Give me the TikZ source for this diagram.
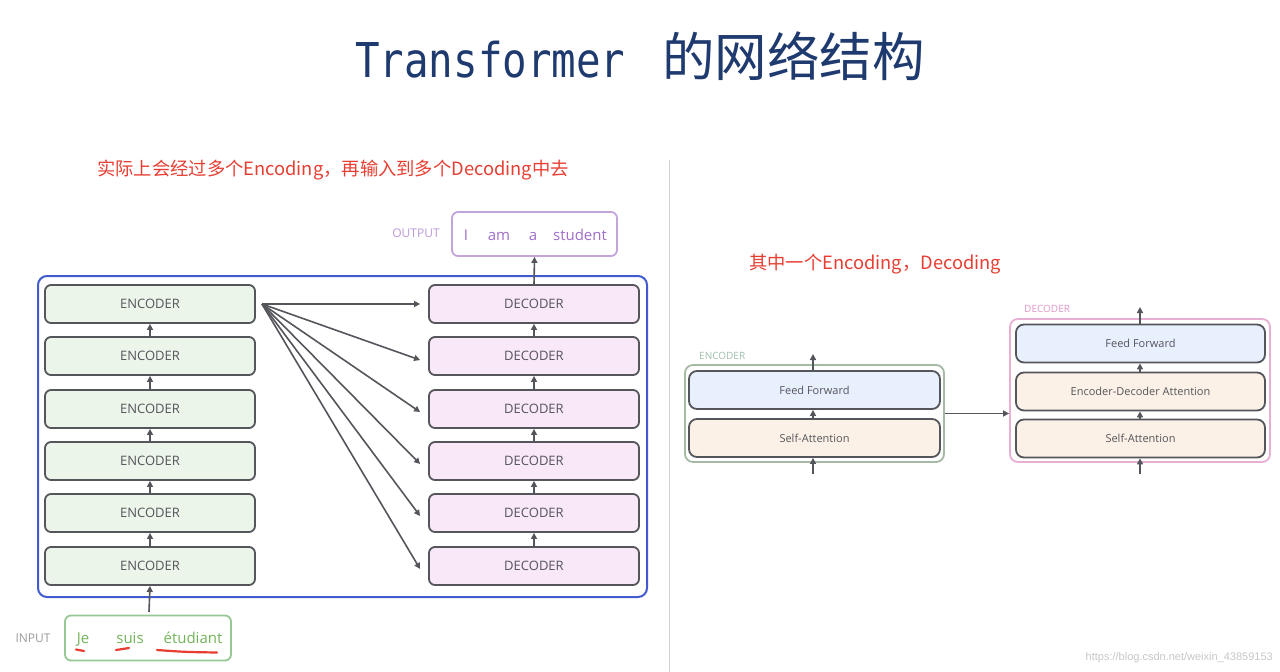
\documentclass[tikz,border=0pt]{standalone}
\usepackage{fontspec}
\setmainfont{Open Sans}
\newfontfamily\cjk{Noto Sans CJK SC}
\newfontfamily\titlemono[FakeStretch=0.85]{DejaVu Sans Mono}
\newfontfamily\wmfont{Liberation Sans}
\usetikzlibrary{arrows.meta}
\definecolor{titleblue}{RGB}{30,58,110}
\definecolor{notered}{RGB}{232,62,50}
\definecolor{boxdraw}{RGB}{85,85,92}
\definecolor{encfill}{RGB}{236,245,234}
\definecolor{decfill}{RGB}{249,232,248}
\definecolor{blueframe}{RGB}{65,90,205}
\definecolor{outborder}{RGB}{195,165,220}
\definecolor{outtext}{RGB}{160,110,200}
\definecolor{inborder}{RGB}{150,200,150}
\definecolor{intext}{RGB}{115,180,90}
\definecolor{ffblue}{RGB}{232,239,253}
\definecolor{peach}{RGB}{252,241,230}
\definecolor{encframe}{RGB}{165,185,165}
\definecolor{decframe}{RGB}{232,175,212}
\definecolor{enclabel}{RGB}{160,192,172}
\definecolor{declabel}{RGB}{222,150,200}
\definecolor{graylabel}{RGB}{130,130,135}
\tikzset{
  stackbox/.style={draw=boxdraw, line width=1.8pt, rounded corners=6pt,
    minimum width=210pt, minimum height=38pt, inner sep=0pt,
    text=boxdraw, font=\fontsize{13}{15}\selectfont},
  encbox/.style={stackbox, fill=encfill},
  decbox/.style={stackbox, fill=decfill},
  layerbox/.style={draw=boxdraw, line width=1.8pt, rounded corners=8pt,
    minimum height=38pt, inner sep=0pt, text=boxdraw,
    font=\fontsize{11}{13}\selectfont},
  arr/.style={draw=boxdraw, line width=1.6pt, -{Triangle[length=6pt,width=6pt]}},
  redline/.style={draw=notered, line width=2.2pt, line cap=round},
  note/.style={text=notered, font=\cjk\fontsize{18.3}{20}\selectfont, inner sep=0pt},
}
\begin{document}
\begin{tikzpicture}[x=1pt,y=-1pt]
\useasboundingbox[fill=white] (0,0) rectangle (1280,672);

% title
\node[anchor=base west, inner sep=0pt, text=titleblue] (t1) at (355,77)
  {\fontsize{48}{50}\selectfont\titlemono Transformer};
\node[anchor=base west, inner sep=0pt, text=titleblue] (t2) at (662,76)
  {\fontsize{52.5}{55}\selectfont\cjk 的网络结构};

% notes
\node[note, anchor=west] (n1) at (97,170) {实际上会经过多个Encoding，再输入到多个Decoding中去};
\node[note, anchor=west] (n2) at (749,264) {其中一个Encoding，Decoding};

% divider
\draw[black!18, line width=1pt] (669,160) -- (669,672);

% left big frame
\node[draw=blueframe, line width=2pt, rounded corners=9pt, minimum width=609pt,
  minimum height=321pt, inner sep=0pt] (frame) at (342.5,436.5) {};

% encoders and decoders
\foreach \i/\y in {1/304,2/356,3/409,4/461,5/513,6/566}{
  \node[encbox] (e\i) at (150,\y) {ENCODER};
  \node[decbox] (d\i) at (534,\y) {DECODER};
}
\foreach \a/\b in {2/1,3/2,4/3,5/4,6/5}{
  \draw[arr] (e\a.north) -- (e\b.south);
  \draw[arr] (d\a.north) -- (d\b.south);
}
\coordinate (fan) at (262,304);
\foreach \i/\dy in {1/0,2/-4,3/-3,4/-3,5/-3,6/-3}{
  \draw[arr] (fan) -- ([xshift=-8pt,yshift=\dy pt]d\i.west);
}

% output
\node[draw=outborder, line width=1.8pt, rounded corners=6pt, minimum width=165pt,
  minimum height=44pt, inner sep=0pt] (outbox) at (534.5,234) {};
\node[text=outborder!80!outtext, font=\fontsize{12}{14}\selectfont] (outlbl) at (416,233) {OUTPUT};
\begin{scope}[every node/.style={text=outtext, font=\fontsize{15}{17}\selectfont, inner sep=0pt, anchor=base}]
\node (w1) at (466,240) {I};
\node (w2) at (499,240) {am};
\node (w3) at (533,240) {a};
\node (w4) at (580,240) {student};
\end{scope}
\draw[arr] (d1.north) -- (outbox.south);

% input
\node[draw=inborder, line width=1.8pt, rounded corners=6pt, minimum width=166pt,
  minimum height=45pt, inner sep=0pt] (inbox) at (148,638) {};
\node[text=graylabel!80, font=\fontsize{12}{14}\selectfont] (inlbl) at (33,638) {INPUT};
\begin{scope}[every node/.style={text=intext, font=\fontsize{15}{17}\selectfont, inner sep=0pt, anchor=base}]
\node (j1) at (83,643) {Je};
\node (j2) at (130,643) {suis};
\node (j3) at (193,643) {étudiant};
\end{scope}
\draw[redline] (76,649.5) -- (84,651);
\draw[redline] (116,650) .. controls (122,649) .. (129,648);
\draw[redline] (157,650) .. controls (185,652) .. (217,652.5);
\coordinate (inarr) at (149,612);
\draw[arr] (inarr) -- (e6.south);

% right: single encoder
\node[draw=encframe, line width=1.8pt, rounded corners=8pt, minimum width=259pt,
  minimum height=97pt, inner sep=0pt] (encf) at (814.5,413.5) {};
\node[anchor=west, text=enclabel, font=\fontsize{10}{12}\selectfont, inner sep=0pt] (enclbl) at (699,356) {ENCODER};
\node[layerbox, fill=ffblue, minimum width=251pt] (eff) at (814.5,390) {Feed Forward};
\node[layerbox, fill=peach, minimum width=251pt] (esa) at (814.5,438) {Self-Attention};
\coordinate (ein) at (813,474);
\coordinate (eout) at (813,354);
\draw[arr] (ein) -- (ein |- esa.south);
\draw[arr] (esa.north -| ein) -- (eff.south -| ein);
\draw[arr] (eff.north -| ein) -- (eout);

% right: single decoder
\node[draw=decframe, line width=1.8pt, rounded corners=8pt, minimum width=260pt,
  minimum height=143pt, inner sep=0pt] (decf) at (1140,390.5) {};
\node[anchor=west, text=declabel, font=\fontsize{10}{12}\selectfont, inner sep=0pt] (declbl) at (1024,309) {DECODER};
\node[layerbox, fill=ffblue, minimum width=249pt] (dff) at (1140.5,343.5) {Feed Forward};
\node[layerbox, fill=peach, minimum width=249pt] (deda) at (1140.5,391.5) {Encoder-Decoder Attention};
\node[layerbox, fill=peach, minimum width=249pt] (dsa) at (1140.5,438.5) {Self-Attention};
\coordinate (din) at (1140,474);
\coordinate (dout) at (1140,307);
\draw[arr] (din) -- (din |- dsa.south);
\draw[arr] (dsa.north -| din) -- (deda.south -| din);
\draw[arr] (deda.north -| din) -- (dff.south -| din);
\draw[arr] (dff.north -| din) -- (dout);

% encoder -> decoder
\draw[arr] (encf.east) -- (decf.west |- encf.east);

% watermark
\node[anchor=east, text=black!22, font=\wmfont\fontsize{11}{13}\selectfont, inner sep=0pt] (wm) at (1273,658) {https://blog.csdn.net/weixin\_43859153};
\end{tikzpicture}
\end{document}
